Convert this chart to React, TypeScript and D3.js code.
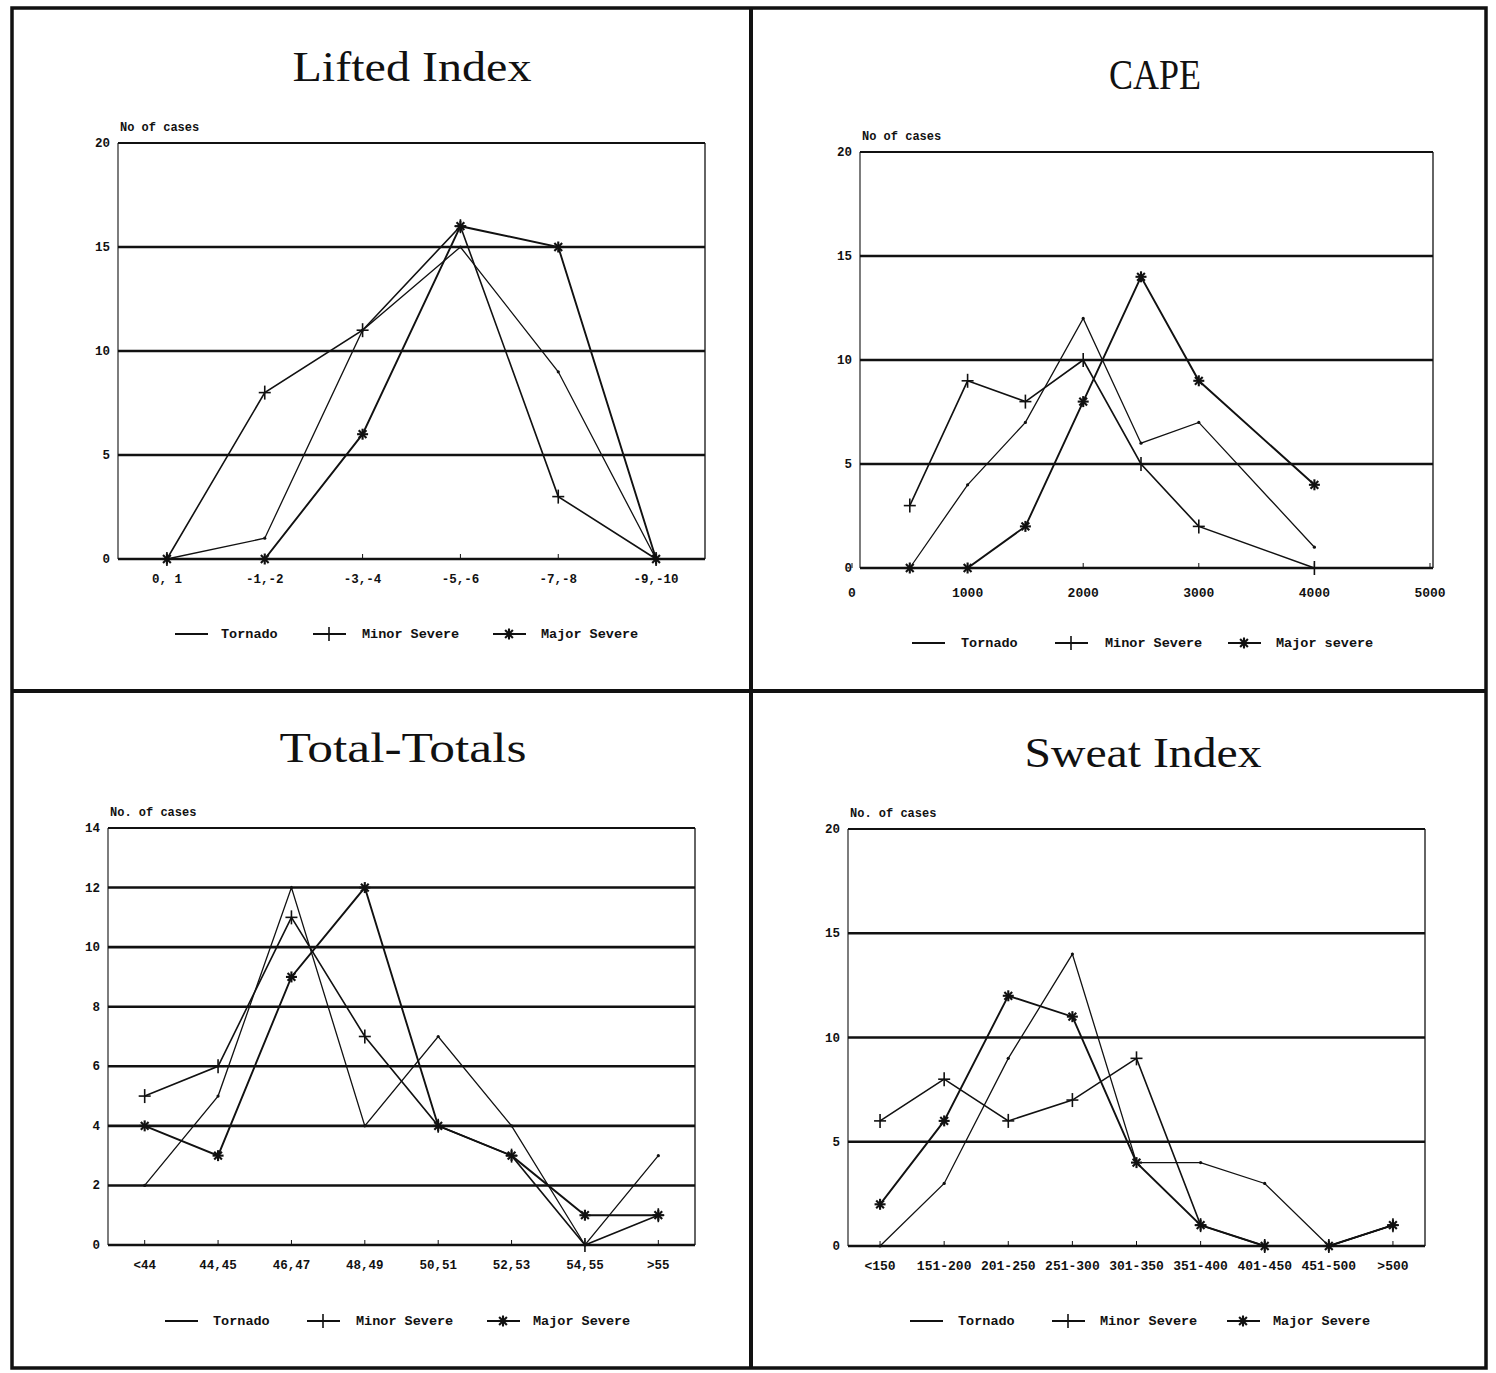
import * as d3 from "d3";
import React from "react";

// ---- data ----
const seriesNames = ["Tornado", "Minor Severe", "Major Severe"];

const liCategories = ["0, 1", "-1,-2", "-3,-4", "-5,-6", "-7,-8", "-9,-10"];
const liTornado = [0, 1, 11, 15, 9, 0];
const liMinor = [0, 8, 11, 16, 3, 0];
const liMajor = [0, 0, 6, 16, 15, 0];
const liTicks = [0, 5, 10, 15, 20];

const capeX = [500, 1000, 1500, 2000, 2500, 3000, 4000];
const capeTornado = [0, 4, 7, 12, 6, 7, 1];
const capeMinor = [3, 9, 8, 10, 5, 2, 0];
const capeMajor = [0, 0, 2, 8, 14, 9, 4];
const capeXTicks = [0, 1000, 2000, 3000, 4000, 5000];
const capeTicks = [0, 5, 10, 15, 20];

const ttCategories = ["<44", "44,45", "46,47", "48,49", "50,51", "52,53", "54,55", ">55"];
const ttTornado = [2, 5, 12, 4, 7, 4, 0, 3];
const ttMinor = [5, 6, 11, 7, 4, 3, 0, 1];
const ttMajor = [4, 3, 9, 12, 4, 3, 1, 1];
const ttTicks = [0, 2, 4, 6, 8, 10, 12, 14];

const swCategories = ["<150", "151-200", "201-250", "251-300", "301-350", "351-400", "401-450", "451-500", ">500"];
const swTornado = [0, 3, 9, 14, 4, 4, 3, 0, 1];
const swMinor = [6, 8, 6, 7, 9, 1, 0, 0, 1];
const swMajor = [2, 6, 12, 11, 4, 1, 0, 0, 1];
const swTicks = [0, 5, 10, 15, 20];

const TITLE_FONT = "'Liberation Serif', 'DejaVu Serif', serif";
const LABEL_FONT = "'Liberation Mono', 'DejaVu Sans Mono', monospace";

type Marker = "dot" | "plus" | "star";
const markers: Marker[] = ["dot", "plus", "star"];
const widths = [1.3, 1.6, 1.9];

function MarkerGlyph({ kind, x, y }: { kind: Marker; x: number; y: number }) {
  if (kind === "dot") return <circle cx={x} cy={y} r={1.6} fill="#111" />;
  if (kind === "plus")
    return (
      <g stroke="#111" strokeWidth={1.6}>
        <line x1={x - 6} x2={x + 6} y1={y} y2={y} />
        <line x1={x} x2={x} y1={y - 7} y2={y + 7} />
      </g>
    );
  const r = 5.5;
  return (
    <g stroke="#111" strokeWidth={2.1}>
      {[0, 45, 90, 135].map((a) => {
        const rad = (a * Math.PI) / 180;
        return (
          <line
            key={a}
            x1={x - r * Math.cos(rad)}
            x2={x + r * Math.cos(rad)}
            y1={y - r * Math.sin(rad)}
            y2={y + r * Math.sin(rad)}
          />
        );
      })}
    </g>
  );
}

interface PanelProps {
  title: string;
  titleX: number;
  titleY: number;
  titleWidth: number;
  yLabel: string;
  plot: { left: number; right: number; top: number; bottom: number };
  yTicks: number[];
  categories?: string[];
  xValues?: number[];
  xTicks?: number[];
  xRange?: [number, number];
  series: number[][];
  legendY: number;
  legendLineX: number[];
  legendTextX: number[];
  legendNames: string[];
  xLabelDy: number;
  xFontSize: number;
}

function Panel(p: PanelProps) {
  const { plot } = p;
  const yMax = p.yTicks[p.yTicks.length - 1];
  const y = d3.scaleLinear().domain([0, yMax]).range([plot.bottom, plot.top]);

  let xPos: number[] = [];
  let tickMarks: { x: number; label: string }[] = [];
  if (p.categories) {
    const x = d3.scalePoint<string>().domain(p.categories).range([plot.left, plot.right]).padding(0.5);
    xPos = p.categories.map((c) => x(c)!);
    tickMarks = p.categories.map((c) => ({ x: x(c)!, label: c }));
  } else if (p.xValues && p.xTicks && p.xRange) {
    const x = d3.scaleLinear().domain([0, 5000]).range(p.xRange);
    xPos = p.xValues.map((v) => x(v));
    tickMarks = p.xTicks.map((v) => ({ x: x(v), label: String(v) }));
  }

  const line = d3
    .line<number>()
    .x((_, i) => xPos[i])
    .y((d) => y(d));

  return (
    <g>
      <text
        x={p.titleX - p.titleWidth / 2}
        y={p.titleY}
        textLength={p.titleWidth}
        lengthAdjust="spacingAndGlyphs"
        fontFamily={TITLE_FONT}
        fontSize={43}
        fill="#111"
      >
        {p.title}
      </text>
      <text x={plot.left + 2} y={plot.top - 12} fontFamily={LABEL_FONT} fontWeight="bold" fontSize={12} fill="#111">
        {p.yLabel}
      </text>

      {/* gridlines */}
      {p.yTicks.map((t) => (
        <g key={t}>
          <line
            x1={plot.left}
            x2={plot.right}
            y1={y(t)}
            y2={y(t)}
            stroke="#111"
            strokeWidth={t === yMax ? 1.8 : 2.6}
          />
          <text
            x={plot.left - 8}
            y={y(t) + 4}
            textAnchor="end"
            fontFamily={LABEL_FONT}
            fontWeight="bold"
            fontSize={12.5}
            fill="#111"
          >
            {t}
          </text>
        </g>
      ))}
      <line x1={plot.left} x2={plot.left} y1={plot.top} y2={plot.bottom} stroke="#111" strokeWidth={1.1} />
      <line x1={plot.right} x2={plot.right} y1={plot.top} y2={plot.bottom} stroke="#111" strokeWidth={1.3} />

      {/* x ticks */}
      {tickMarks.map((t) => (
        <g key={t.label}>
          <line x1={t.x} x2={t.x} y1={plot.bottom} y2={plot.bottom - 5} stroke="#111" strokeWidth={1} />
          <text
            x={t.x}
            y={plot.bottom + p.xLabelDy}
            textAnchor="middle"
            fontFamily={LABEL_FONT}
            fontWeight="bold"
            fontSize={p.xFontSize}
            fill="#111"
          >
            {t.label}
          </text>
        </g>
      ))}

      {/* series */}
      {p.series.map((s, si) => (
        <g key={si}>
          <path d={line(s) ?? ""} fill="none" stroke="#111" strokeWidth={widths[si]} />
          {s.map((v, i) => (
            <MarkerGlyph key={i} kind={markers[si]} x={xPos[i]} y={y(v)} />
          ))}
        </g>
      ))}

      {/* legend */}
      {p.legendNames.map((name, i) => (
        <g key={name}>
          <line
            x1={p.legendLineX[i]}
            x2={p.legendLineX[i] + 33}
            y1={p.legendY - 4}
            y2={p.legendY - 4}
            stroke="#111"
            strokeWidth={2}
          />
          {i > 0 && <MarkerGlyph kind={markers[i]} x={p.legendLineX[i] + 16} y={p.legendY - 4} />}
          <text x={p.legendTextX[i]} y={p.legendY} fontFamily={LABEL_FONT} fontWeight="bold" fontSize={13.5} fill="#111">
            {name}
          </text>
        </g>
      ))}
    </g>
  );
}

export default function App() {
  return (
    <svg
      width={1496}
      height={1373}
      style={{ position: "absolute", left: 0, top: 0, background: "#fff" }}
    >
      <rect x={0} y={0} width={1496} height={1373} fill="#fff" />
      {/* page frame and dividers */}
      <rect x={12} y={8} width={1474} height={1360} fill="none" stroke="#111" strokeWidth={3.5} />
      <line x1={751} x2={751} y1={8} y2={1368} stroke="#111" strokeWidth={4} />
      <line x1={12} x2={1486} y1={691} y2={691} stroke="#111" strokeWidth={4} />

      <Panel
        title="Lifted Index"
        titleX={412}
        titleY={81}
        titleWidth={239}
        yLabel="No of cases"
        plot={{ left: 118, right: 705, top: 143, bottom: 559 }}
        yTicks={liTicks}
        categories={liCategories}
        series={[liTornado, liMinor, liMajor]}
        legendY={638}
        legendLineX={[175, 313, 493]}
        legendTextX={[221, 362, 541]}
        legendNames={seriesNames}
        xLabelDy={24}
        xFontSize={12.5}
      />
      <Panel
        title="CAPE"
        titleX={1155}
        titleY={89}
        titleWidth={92}
        yLabel="No of cases"
        plot={{ left: 860, right: 1433, top: 152, bottom: 568 }}
        yTicks={capeTicks}
        xValues={capeX}
        xTicks={capeXTicks}
        xRange={[852, 1430]}
        series={[capeTornado, capeMinor, capeMajor]}
        legendY={647}
        legendLineX={[912, 1055, 1228]}
        legendTextX={[961, 1105, 1276]}
        legendNames={["Tornado", "Minor Severe", "Major severe"]}
        xLabelDy={29}
        xFontSize={13}
      />
      <Panel
        title="Total-Totals"
        titleX={403}
        titleY={762}
        titleWidth={247}
        yLabel="No. of cases"
        plot={{ left: 108, right: 695, top: 828, bottom: 1245 }}
        yTicks={ttTicks}
        categories={ttCategories}
        series={[ttTornado, ttMinor, ttMajor]}
        legendY={1325}
        legendLineX={[165, 307, 487]}
        legendTextX={[213, 356, 533]}
        legendNames={seriesNames}
        xLabelDy={24}
        xFontSize={12.5}
      />
      <Panel
        title="Sweat Index"
        titleX={1143}
        titleY={767}
        titleWidth={237}
        yLabel="No. of cases"
        plot={{ left: 848, right: 1425, top: 829, bottom: 1246 }}
        yTicks={swTicks}
        categories={swCategories}
        series={[swTornado, swMinor, swMajor]}
        legendY={1325}
        legendLineX={[910, 1052, 1227]}
        legendTextX={[958, 1100, 1273]}
        legendNames={seriesNames}
        xLabelDy={24}
        xFontSize={13}
      />
    </svg>
  );
}
